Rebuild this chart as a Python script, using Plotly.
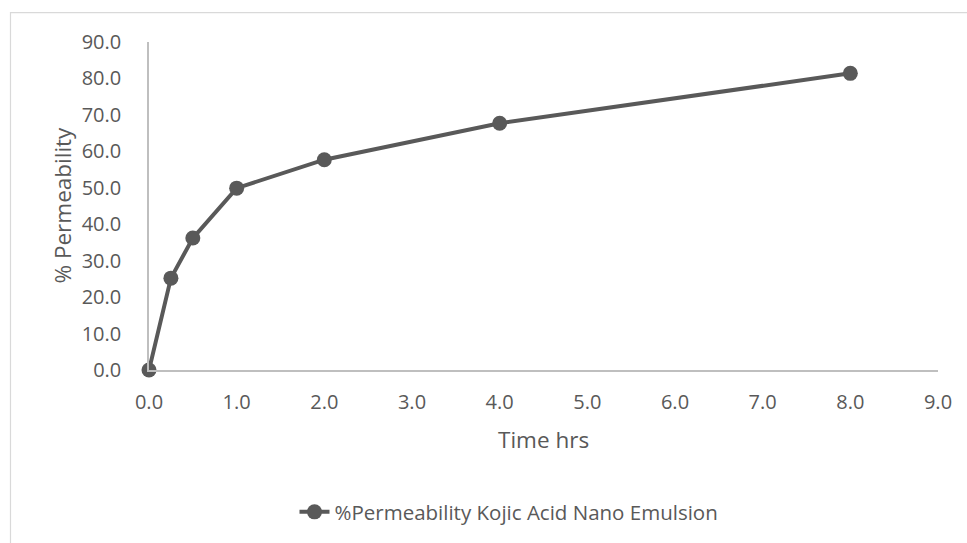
import plotly.graph_objects as go

time_hrs = [0, 0.25, 0.5, 1, 2, 4, 8]
permeability = [0.0, 25.2, 36.2, 49.9, 57.7, 67.7, 81.4]
series_name = "%Permeability Kojic Acid Nano Emulsion"
x_title = "Time hrs"
y_title = "% Permeability"

W, H = 967, 543
L, R, T, B = 149, 29, 42, 172
pw, ph = W - L - R, H - T - B

def px(x):
    return (x - L) / pw

def py(y):
    return (H - B - y) / ph

font_fam = "Open Sans, Liberation Sans, sans-serif"
txt = "#595959"

fig = go.Figure()
fig.add_trace(go.Scatter(
    x=time_hrs, y=permeability, mode="lines+markers", name=series_name,
    line=dict(color="#595959", width=4),
    marker=dict(color="#595959", size=15),
    cliponaxis=False,
))

fig.update_layout(
    width=W, height=H,
    margin=dict(l=L, r=R, t=T, b=B),
    paper_bgcolor="white", plot_bgcolor="white",
    font=dict(family=font_fam, color=txt, size=19),
    showlegend=True,
    legend=dict(orientation="h", x=px(509), y=py(512), xanchor="center", yanchor="middle",
                font=dict(size=20.5, color=txt)),
    xaxis=dict(range=[0, 9], dtick=1, tick0=0, tickformat=".1f", showgrid=False,
               zeroline=False, showline=True, linecolor="#BFBFBF", linewidth=1.5,
               ticks="", ticklabelstandoff=13, tickfont=dict(size=20, color=txt)),
    yaxis=dict(range=[0, 90], dtick=10, tick0=0, tickformat=".1f", showgrid=False,
               zeroline=False, showline=True, linecolor="#BFBFBF", linewidth=1.5,
               ticks="", ticklabelstandoff=22, tickfont=dict(size=20, color=txt)),
    annotations=[
        dict(text=x_title, xref="paper", yref="paper", x=px(543), y=py(441),
             xanchor="center", yanchor="middle", showarrow=False,
             font=dict(size=22.5, color=txt)),
        dict(text=y_title, xref="paper", yref="paper", x=px(63), y=py(206),
             xanchor="center", yanchor="middle", showarrow=False, textangle=-90,
             font=dict(size=22.5, color=txt)),
    ],
    shapes=[
        dict(type="path", xref="paper", yref="paper",
             path=f"M {px(10.5)} {py(545)} L {px(10.5)} {py(12.5)} L {px(970)} {py(12.5)}",
             line=dict(color="#D9D9D9", width=1.2)),
    ],
)

fig.write_html("out.html")
